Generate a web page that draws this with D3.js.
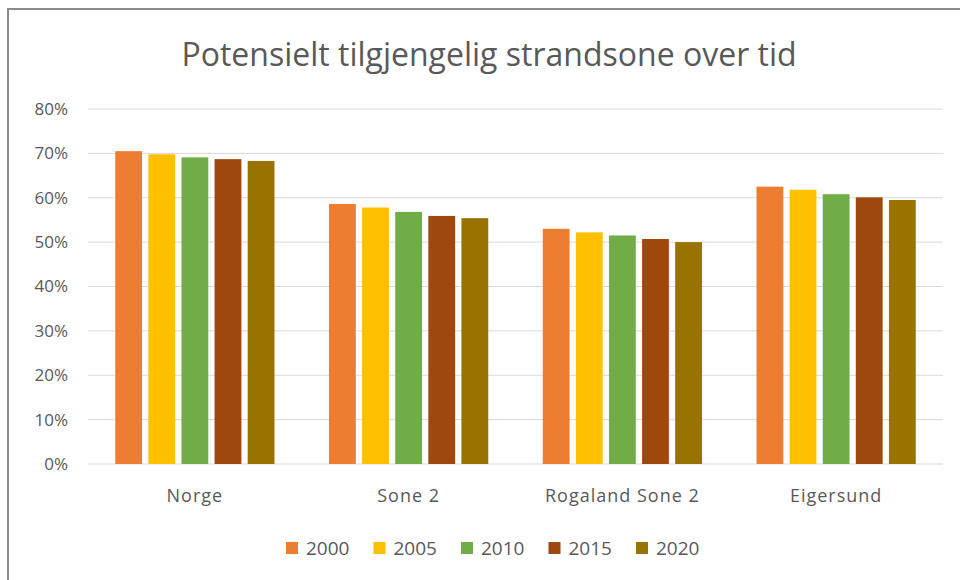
<!DOCTYPE html>
<html>
<head>
<meta charset="utf-8">
<script src="https://cdn.jsdelivr.net/npm/d3@7"></script>
<style>
  body { margin: 0; background: #fff; }
  svg { display: block; font-family: "Open Sans", sans-serif; }
</style>
</head>
<body>
<svg id="chart" width="960" height="580"></svg>
<script>
// data
var categories = ["Norge", "Sone 2", "Rogaland Sone 2", "Eigersund"];
var years = ["2000", "2005", "2010", "2015", "2020"];
var v2000 = [0.705, 0.586, 0.530, 0.625];
var v2005 = [0.698, 0.578, 0.522, 0.618];
var v2010 = [0.691, 0.568, 0.515, 0.608];
var v2015 = [0.687, 0.559, 0.507, 0.601];
var v2020 = [0.683, 0.554, 0.500, 0.595];
var yTicks = [0, 0.1, 0.2, 0.3, 0.4, 0.5, 0.6, 0.7, 0.8];

var series = [v2000, v2005, v2010, v2015, v2020];
var colors = ["#ED7D31", "#FFC000", "#70AD47", "#9E480E", "#997300"];

var svg = d3.select("#chart");

// frame
svg.append("rect")
    .attr("x", 8).attr("y", 9)
    .attr("width", 960).attr("height", 580)
    .attr("fill", "none")
    .attr("stroke", "#8c8c8c")
    .attr("stroke-width", 2);

var plotLeft = 88, plotRight = 943, plotTop = 109, plotBottom = 464;

var x0 = d3.scaleBand()
    .domain(categories)
    .range([plotLeft, plotRight])
    .paddingInner(0.255)
    .paddingOuter(0.1275);

var x1 = d3.scaleBand()
    .domain(years)
    .range([0, x0.bandwidth()])
    .paddingInner(0.19);

var y = d3.scaleLinear()
    .domain([0, 0.8])
    .range([plotBottom, plotTop]);

// grid
svg.append("g")
    .selectAll("line")
    .data(yTicks)
    .enter()
    .append("line")
    .attr("x1", plotLeft).attr("x2", plotRight)
    .attr("y1", function (d) { return y(d); })
    .attr("y2", function (d) { return y(d); })
    .attr("stroke", "#d9d9d9")
    .attr("stroke-width", 1);

// y labels
svg.append("g")
    .selectAll("text")
    .data(yTicks)
    .enter()
    .append("text")
    .attr("x", 68)
    .attr("y", function (d) { return y(d); })
    .attr("dy", "0.35em")
    .attr("text-anchor", "end")
    .attr("fill", "#595959")
    .attr("font-size", 17)
    .text(d3.format(".0%"));

// bars
var groups = svg.append("g")
    .selectAll("g")
    .data(categories)
    .enter()
    .append("g")
    .attr("transform", function (d) { return "translate(" + x0(d) + ",0)"; });

groups.selectAll("rect")
    .data(function (d, i) {
        return years.map(function (yr, j) { return { year: yr, value: series[j][i], c: colors[j] }; });
    })
    .enter()
    .append("rect")
    .attr("x", function (d) { return x1(d.year); })
    .attr("y", function (d) { return y(d.value); })
    .attr("width", x1.bandwidth())
    .attr("height", function (d) { return plotBottom - y(d.value); })
    .attr("fill", function (d) { return d.c; });

// category labels
svg.append("g")
    .selectAll("text")
    .data(categories)
    .enter()
    .append("text")
    .attr("x", function (d) { return x0(d) + x0.bandwidth() / 2; })
    .attr("y", 502)
    .attr("text-anchor", "middle")
    .attr("fill", "#595959")
    .attr("font-size", 18)
    .attr("letter-spacing", 1)
    .text(function (d) { return d; });

// title
svg.append("text")
    .attr("x", 489)
    .attr("y", 66)
    .attr("text-anchor", "middle")
    .attr("fill", "#595959")
    .attr("font-size", 32)
    .text("Potensielt tilgjengelig strandsone over tid");

// legend
var legend = svg.append("g")
    .selectAll("g")
    .data(years)
    .enter()
    .append("g")
    .attr("transform", function (d, i) { return "translate(" + (286 + i * 87.5) + ",548)"; });

legend.append("rect")
    .attr("x", 0).attr("y", -6)
    .attr("width", 12).attr("height", 12)
    .attr("fill", function (d, i) { return colors[i]; });

legend.append("text")
    .attr("x", 20)
    .attr("dy", "0.36em")
    .attr("fill", "#595959")
    .attr("font-size", 19)
    .text(function (d) { return d; });
</script>
</body>
</html>
